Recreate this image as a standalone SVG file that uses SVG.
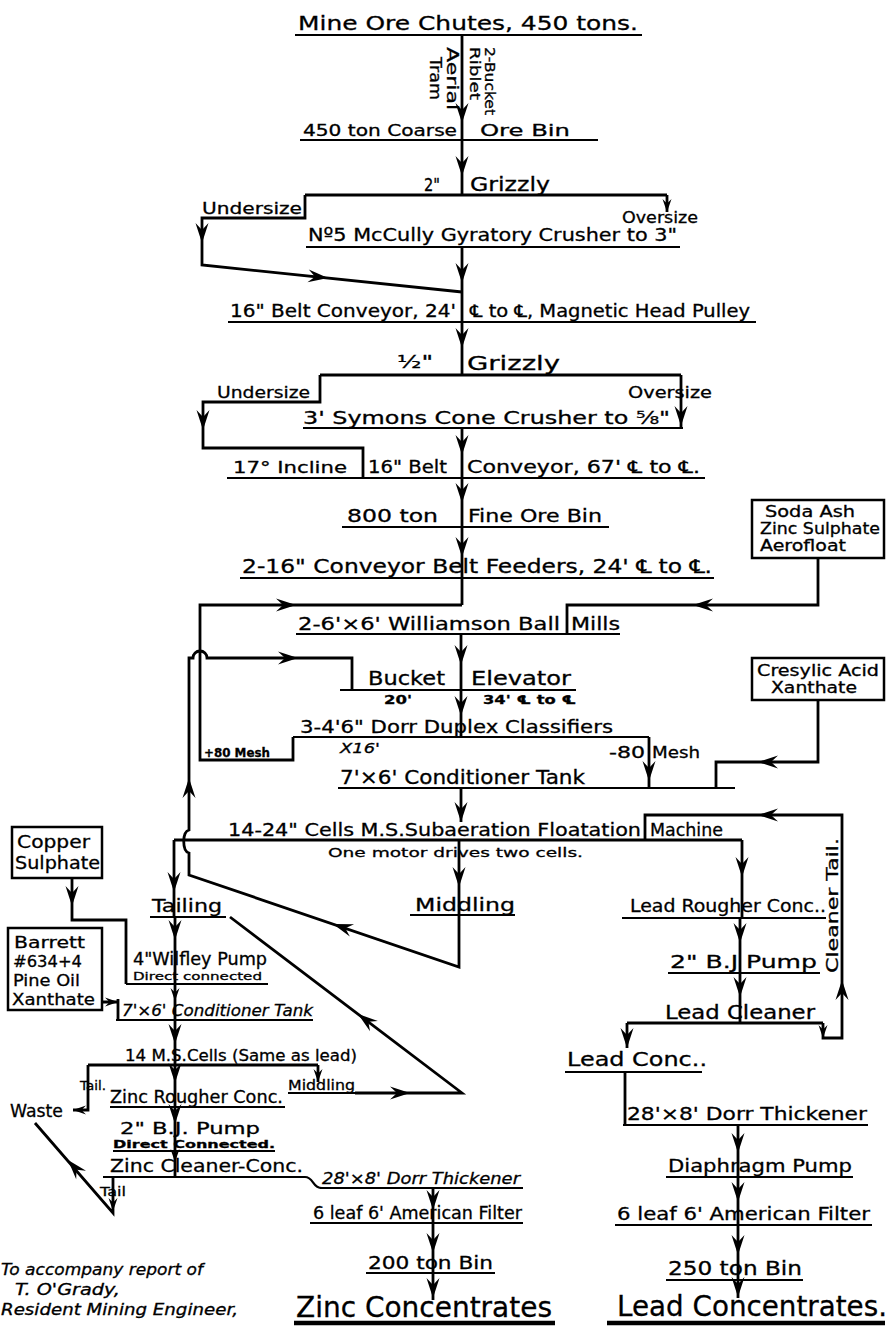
<svg xmlns="http://www.w3.org/2000/svg" width="893" height="1327" viewBox="0 0 893 1327">
<style>
text{font-family:"DejaVu Sans","Liberation Sans",sans-serif;fill:#000;stroke:#000;stroke-width:0.3}
.i{font-style:italic}
.b{font-weight:bold}
.ln{stroke:#000;stroke-width:2.8;fill:none}
.ul{stroke:#000;stroke-width:2.2;fill:none}
.th{stroke:#000;stroke-width:4.5;fill:none}
.bx{fill:#fff;stroke:#000;stroke-width:2.5}
</style>
<defs>
<path id="ah" d="M0,0 L-6.5,-20 L0,-13 L6.5,-20 Z" fill="#000"/>
<path id="as" d="M0,0 L-4.5,-13 L0,-8.5 L4.5,-13 Z" fill="#000"/>
</defs>
<rect width="893" height="1327" fill="#fff"/>

<g id="connectors">
<path class="ln" d="M462,35 V140"/>
<path class="ln" d="M462,140 V195"/>
<path class="ln" d="M667,195 V212"/>
<path class="ln" d="M305,195 V218 H202 V265 L462,292"/>
<path class="ln" d="M462,247 V322"/>
<path class="ln" d="M462,322 V375"/>
<path class="ln" d="M681,375 V428"/>
<path class="ln" d="M320,375 V402 H203 V448 H363 V478"/>
<path class="ln" d="M462,428 V478"/>
<path class="ln" d="M462,478 V527"/>
<path class="ln" d="M462,527 V578"/>
<path class="ln" d="M462,578 V605"/>
<path class="ln" d="M818,558 V605 H567 V634"/>
<path class="ln" d="M293,737 V760 H200 V605 H462"/>
<path class="ln" d="M461,634 V690"/>
<path class="ln" d="M461,690 V737"/>
<path class="ln" d="M649,737 V788"/>
<path class="ln" d="M818,700 V762 H716 V788"/>
<path class="ln" d="M461,788 V822"/>
<path class="ln" d="M459,840 V967 L189,875 V853 C182,851 182,832 189,830 V658 H193 A7,7 0 0 1 207,658 H352 V690"/>
<path class="ln" d="M174,840 V917"/>
<path class="ln" d="M742,840 V918"/>
<path class="ln" d="M740,918 V973"/>
<path class="ln" d="M740,973 V1023"/>
<path class="ln" d="M627,1023 V1048"/>
<path class="ln" d="M823,1023 V1038 H842 V815 H645 V840"/>
<path class="ln" d="M625,1072 V1125"/>
<path class="ln" d="M738,1125 V1298"/>
<path class="ln" d="M175,917 V1177"/>
<path class="ln" d="M72,878 V920 H126 V984"/>
<path class="ln" d="M102,1002 H118 M118,999 V1020"/>
<path class="ln" d="M88,1065 V1110 H73"/>
<path class="ln" d="M318,1065 V1082"/>
<path class="ln" d="M355,1093 H462 L230,917"/>
<path class="ln" d="M113,1177 V1213 L35,1123"/>
<path class="ul" d="M305,1177 C314,1177 312,1188 322,1188"/>
<path class="ln" d="M433,1188 V1300"/>

<use href="#ah" transform="translate(462,123)"/>
<use href="#ah" transform="translate(462,176)"/>
<use href="#as" transform="translate(667,212)"/>
<use href="#ah" transform="translate(202,243)"/>
<use href="#ah" transform="translate(328,278) rotate(-84)"/>
<use href="#ah" transform="translate(462,283)"/>
<use href="#ah" transform="translate(462,348)"/>
<use href="#ah" transform="translate(681,426)"/>
<use href="#ah" transform="translate(203,430)"/>
<use href="#ah" transform="translate(462,455)"/>
<use href="#ah" transform="translate(462,503)"/>
<use href="#ah" transform="translate(462,557)"/>
<use href="#ah" transform="translate(693,605) rotate(90)"/>
<use href="#ah" transform="translate(296,605) rotate(-90)"/>
<use href="#ah" transform="translate(298,658) rotate(-90)"/>
<use href="#ah" transform="translate(189,778) rotate(180)"/>
<use href="#ah" transform="translate(333,924) rotate(108.8)"/>
<use href="#ah" transform="translate(461,665)"/>
<use href="#ah" transform="translate(461,716)"/>
<use href="#ah" transform="translate(649,781)"/>
<use href="#ah" transform="translate(758,762) rotate(90)"/>
<use href="#ah" transform="translate(461,822)"/>
<use href="#ah" transform="translate(174,892)"/>
<use href="#ah" transform="translate(459,887)"/>
<use href="#ah" transform="translate(742,877)"/>
<use href="#ah" transform="translate(740,943)"/>
<use href="#ah" transform="translate(740,997)"/>
<use href="#ah" transform="translate(627,1048)"/>
<use href="#as" transform="translate(823,1038)"/>
<use href="#ah" transform="translate(842,980) rotate(180)"/>
<use href="#ah" transform="translate(758,815) rotate(90)"/>
<use href="#ah" transform="translate(175,940)"/>
<use href="#as" transform="translate(175,1001)"/>
<use href="#ah" transform="translate(175,1044)"/>
<use href="#ah" transform="translate(72,906)"/>
<use href="#as" transform="translate(118,1002) rotate(-90)"/>
<use href="#as" transform="translate(73,1110) rotate(90)"/>
<use href="#as" transform="translate(318,1082)"/>
<use href="#ah" transform="translate(410,1093) rotate(-90)"/>
<use href="#ah" transform="translate(358,1014) rotate(127.2)"/>
<use href="#ah" transform="translate(175,1083)"/>
<use href="#ah" transform="translate(175,1124)"/>
<use href="#as" transform="translate(175,1162)"/>
<use href="#as" transform="translate(113,1211)"/>
<use href="#ah" transform="translate(68,1160) rotate(139.1)"/>
<use href="#ah" transform="translate(433,1210)"/>
<use href="#ah" transform="translate(433,1253)"/>
<use href="#ah" transform="translate(433,1298)"/>
<use href="#ah" transform="translate(738,1153)"/>
<use href="#ah" transform="translate(738,1202)"/>
<use href="#ah" transform="translate(738,1255)"/>
<use href="#ah" transform="translate(738,1297)"/>

<g id="connector-labels">
<text transform="translate(447,47) rotate(90)" font-size="16" textLength="63" lengthAdjust="spacingAndGlyphs">Aerial</text>
<text transform="translate(430,57) rotate(90)" font-size="16" textLength="43" lengthAdjust="spacingAndGlyphs">Tram</text>
<text transform="translate(485,47) rotate(90)" font-size="14" textLength="68" lengthAdjust="spacingAndGlyphs">2-Bucket</text>
<text transform="translate(470,47) rotate(90)" font-size="14" textLength="53" lengthAdjust="spacingAndGlyphs">Riblet</text>
<text x="202" y="214" font-size="16" textLength="100" lengthAdjust="spacingAndGlyphs">Undersize</text>
<text x="622" y="223" font-size="16" textLength="76" lengthAdjust="spacingAndGlyphs">Oversize</text>
<text x="217" y="398" font-size="16" textLength="93" lengthAdjust="spacingAndGlyphs">Undersize</text>
<text x="628" y="398" font-size="16" textLength="84" lengthAdjust="spacingAndGlyphs">Oversize</text>
<text x="204" y="757" font-size="12" class="b" textLength="66" lengthAdjust="spacingAndGlyphs">+80 Mesh</text>
<text x="609" y="758" font-size="15" textLength="36" lengthAdjust="spacingAndGlyphs">-80</text>
<text x="652" y="758" font-size="15" textLength="48" lengthAdjust="spacingAndGlyphs">Mesh</text>
<text transform="translate(838,973) rotate(-90)" font-size="15" textLength="135" lengthAdjust="spacingAndGlyphs">Cleaner Tail.</text>
<text x="80" y="1090" font-size="12" textLength="26" lengthAdjust="spacingAndGlyphs">Tail.</text>
<text x="100" y="1196" font-size="13" textLength="26" lengthAdjust="spacingAndGlyphs">Tail</text>
</g>
</g>

<g id="mine-ore-chutes">
<text x="298" y="30" font-size="20" textLength="340" lengthAdjust="spacingAndGlyphs">Mine Ore Chutes, 450 tons.</text>
<line class="ul" x1="295" y1="35" x2="642" y2="35"/>
</g>
<g id="coarse-ore-bin">
<text x="303" y="136" font-size="16" textLength="154" lengthAdjust="spacingAndGlyphs">450 ton Coarse</text>
<text x="480" y="136" font-size="16" textLength="90" lengthAdjust="spacingAndGlyphs">Ore Bin</text>
<line class="ul" x1="300" y1="140" x2="598" y2="140"/>
</g>
<g id="grizzly-2in">
<text x="424" y="191" font-size="17" textLength="16" lengthAdjust="spacingAndGlyphs">2"</text>
<text x="470" y="191" font-size="19" textLength="80" lengthAdjust="spacingAndGlyphs">Grizzly</text>
<line class="ln" x1="305" y1="195" x2="667" y2="195"/>
</g>
<g id="gyratory-crusher">
<text x="308" y="241" font-size="18" textLength="369" lengthAdjust="spacingAndGlyphs">Nº5 McCully Gyratory Crusher to 3"</text>
<line class="ul" x1="306" y1="247" x2="680" y2="247"/>
</g>
<g id="belt-conveyor-24">
<text x="230" y="317" font-size="17" textLength="226" lengthAdjust="spacingAndGlyphs">16" Belt Conveyor, 24'</text>
<text x="470" y="317" font-size="17" textLength="280" lengthAdjust="spacingAndGlyphs">℄ to ℄, Magnetic Head Pulley</text>
<line class="ul" x1="228" y1="322" x2="756" y2="322"/>
</g>
<g id="grizzly-half">
<text x="397" y="368" font-size="17" textLength="36" lengthAdjust="spacingAndGlyphs">½"</text>
<text x="467" y="370" font-size="20" textLength="93" lengthAdjust="spacingAndGlyphs">Grizzly</text>
<line class="ln" x1="320" y1="375" x2="681" y2="375"/>
</g>
<g id="symons-crusher">
<text x="303" y="424" font-size="17" textLength="367" lengthAdjust="spacingAndGlyphs">3' Symons Cone Crusher to ⅝"</text>
<line class="ul" x1="303" y1="428" x2="683" y2="428"/>
</g>
<g id="belt-conveyor-67">
<text x="233" y="473" font-size="16" textLength="114" lengthAdjust="spacingAndGlyphs">17° Incline</text>
<text x="368" y="473" font-size="17" textLength="79" lengthAdjust="spacingAndGlyphs">16" Belt</text>
<text x="467" y="473" font-size="17" textLength="233" lengthAdjust="spacingAndGlyphs">Conveyor, 67' ℄ to ℄.</text>
<line class="ul" x1="227" y1="478" x2="705" y2="478"/>
</g>
<g id="fine-ore-bin">
<text x="347" y="522" font-size="17" textLength="91" lengthAdjust="spacingAndGlyphs">800 ton</text>
<text x="468" y="522" font-size="17" textLength="134" lengthAdjust="spacingAndGlyphs">Fine Ore Bin</text>
<line class="ul" x1="342" y1="527" x2="609" y2="527"/>
</g>
<g id="belt-feeders">
<text x="242" y="573" font-size="19" textLength="470" lengthAdjust="spacingAndGlyphs">2-16" Conveyor Belt Feeders, 24' ℄ to ℄.</text>
<line class="ul" x1="240" y1="578" x2="714" y2="578"/>
</g>
<g id="soda-ash">
<rect class="bx" x="752" y="500" width="132" height="58"/>
<text x="765" y="517" font-size="15" textLength="90" lengthAdjust="spacingAndGlyphs">Soda Ash</text>
<text x="760" y="534" font-size="15" textLength="120" lengthAdjust="spacingAndGlyphs">Zinc Sulphate</text>
<text x="760" y="551" font-size="15" textLength="86" lengthAdjust="spacingAndGlyphs">Aerofloat</text>
</g>
<g id="ball-mills">
<text x="298" y="630" font-size="18" textLength="262" lengthAdjust="spacingAndGlyphs">2-6'×6' Williamson Ball</text>
<text x="571" y="630" font-size="18" textLength="49" lengthAdjust="spacingAndGlyphs">Mills</text>
<line class="ul" x1="296" y1="634" x2="620" y2="634"/>
</g>
<g id="bucket-elevator">
<text x="368" y="685" font-size="19" textLength="77" lengthAdjust="spacingAndGlyphs">Bucket</text>
<text x="471" y="685" font-size="19" textLength="100" lengthAdjust="spacingAndGlyphs">Elevator</text>
<line class="ul" x1="340" y1="690" x2="576" y2="690"/>
<text x="384" y="704" font-size="12" class="b" textLength="28" lengthAdjust="spacingAndGlyphs">20'</text>
<text x="483" y="704" font-size="12" class="b" textLength="93" lengthAdjust="spacingAndGlyphs">34' ℄ to ℄</text>
</g>
<g id="classifiers">
<text x="300" y="733" font-size="18" textLength="313" lengthAdjust="spacingAndGlyphs">3-4'6" Dorr Duplex Classifiers</text>
<line class="ul" x1="293" y1="737" x2="649" y2="737"/>
<text x="340" y="753" font-size="14" class="i" textLength="40" lengthAdjust="spacingAndGlyphs">X16'</text>
</g>
<g id="cresylic-acid">
<rect class="bx" x="752" y="658" width="132" height="42"/>
<text x="757" y="676" font-size="15" textLength="122" lengthAdjust="spacingAndGlyphs">Cresylic Acid</text>
<text x="771" y="693" font-size="15" textLength="86" lengthAdjust="spacingAndGlyphs">Xanthate</text>
</g>
<g id="conditioner-tank">
<text x="340" y="784" font-size="19" textLength="245" lengthAdjust="spacingAndGlyphs">7'×6' Conditioner Tank</text>
<line class="ul" x1="338" y1="788" x2="735" y2="788"/>
</g>
<g id="flotation-machine">
<text x="228" y="836" font-size="18" textLength="413" lengthAdjust="spacingAndGlyphs">14-24" Cells M.S.Subaeration Floatation</text>
<text x="650" y="836" font-size="18" textLength="73" lengthAdjust="spacingAndGlyphs">Machine</text>
<line class="ln" x1="174" y1="840" x2="742" y2="840"/>
<text x="328" y="857" font-size="13" textLength="255" lengthAdjust="spacingAndGlyphs">One motor drives two cells.</text>
</g>
<g id="tailing">
<text x="152" y="912" font-size="18" textLength="70" lengthAdjust="spacingAndGlyphs">Tailing</text>
<line class="ul" x1="150" y1="917" x2="226" y2="917"/>
</g>
<g id="middling">
<text x="415" y="911" font-size="18" textLength="100" lengthAdjust="spacingAndGlyphs">Middling</text>
<line class="ul" x1="410" y1="915" x2="515" y2="915"/>
</g>
<g id="lead-rougher">
<text x="630" y="912" font-size="17" textLength="196" lengthAdjust="spacingAndGlyphs">Lead Rougher Conc..</text>
<line class="ul" x1="622" y1="918" x2="826" y2="918"/>
</g>
<g id="copper-sulphate">
<rect class="bx" x="12" y="827" width="90" height="51"/>
<text x="17" y="848" font-size="17" textLength="73" lengthAdjust="spacingAndGlyphs">Copper</text>
<text x="15" y="869" font-size="17" textLength="85" lengthAdjust="spacingAndGlyphs">Sulphate</text>
</g>
<g id="wilfley-pump">
<text x="133" y="965" font-size="17" textLength="134" lengthAdjust="spacingAndGlyphs">4"Wilfley Pump</text>
<text x="133" y="980" font-size="11" textLength="129" lengthAdjust="spacingAndGlyphs">Direct connected</text>
<line class="ul" x1="126" y1="984" x2="268" y2="984"/>
</g>
<g id="barrett">
<rect class="bx" x="8" y="928" width="94" height="82"/>
<text x="14" y="948" font-size="16" textLength="71" lengthAdjust="spacingAndGlyphs">Barrett</text>
<text x="13" y="967" font-size="16" textLength="69" lengthAdjust="spacingAndGlyphs">#634+4</text>
<text x="13" y="986" font-size="16" textLength="67" lengthAdjust="spacingAndGlyphs">Pine Oil</text>
<text x="12" y="1005" font-size="16" textLength="83" lengthAdjust="spacingAndGlyphs">Xanthate</text>
</g>
<g id="zinc-conditioner">
<text x="122" y="1016" font-size="16" class="i" textLength="191" lengthAdjust="spacingAndGlyphs">7'×6' Conditioner Tank</text>
<line class="ul" x1="116" y1="1020" x2="313" y2="1020"/>
</g>
<g id="zinc-cells">
<text x="125" y="1061" font-size="15" textLength="232" lengthAdjust="spacingAndGlyphs">14 M.S.Cells (Same as lead)</text>
<line class="ln" x1="88" y1="1065" x2="318" y2="1065"/>
</g>
<g id="waste">
<text x="10" y="1117" font-size="18" textLength="53" lengthAdjust="spacingAndGlyphs">Waste</text>
</g>
<g id="zinc-rougher">
<text x="110" y="1103" font-size="17" textLength="173" lengthAdjust="spacingAndGlyphs">Zinc Rougher Conc.</text>
<line class="ul" x1="110" y1="1107" x2="285" y2="1107"/>
</g>
<g id="zinc-middling">
<text x="288" y="1090" font-size="14" textLength="67" lengthAdjust="spacingAndGlyphs">Middling</text>
<line class="ul" x1="288" y1="1093" x2="356" y2="1093"/>
</g>
<g id="zinc-pump">
<text x="120" y="1134" font-size="16" textLength="140" lengthAdjust="spacingAndGlyphs">2" B.J. Pump</text>
<text x="113" y="1148" font-size="10" class="b" textLength="162" lengthAdjust="spacingAndGlyphs">Direct Connected.</text>
<line class="ul" x1="113" y1="1151" x2="275" y2="1151"/>
</g>
<g id="zinc-cleaner">
<text x="110" y="1172" font-size="18" textLength="193" lengthAdjust="spacingAndGlyphs">Zinc Cleaner-Conc.</text>
<line class="ul" x1="103" y1="1177" x2="305" y2="1177"/>
</g>
<g id="zinc-thickener">
<text x="322" y="1184" font-size="16" class="i" textLength="198" lengthAdjust="spacingAndGlyphs">28'×8' Dorr Thickener</text>
<line class="ul" x1="320" y1="1188" x2="523" y2="1188"/>
</g>
<g id="zinc-filter">
<text x="313" y="1219" font-size="17" textLength="209" lengthAdjust="spacingAndGlyphs">6 leaf 6' American Filter</text>
<line class="ul" x1="310" y1="1223" x2="523" y2="1223"/>
</g>
<g id="zinc-bin">
<text x="368" y="1269" font-size="17" textLength="125" lengthAdjust="spacingAndGlyphs">200 ton Bin</text>
<line class="ul" x1="366" y1="1273" x2="495" y2="1273"/>
</g>
<g id="zinc-concentrates">
<text x="296" y="1317" font-size="28" textLength="256" lengthAdjust="spacingAndGlyphs">Zinc Concentrates</text>
<line class="th" x1="294" y1="1323" x2="555" y2="1323"/>
</g>
<g id="lead-pump">
<text x="670" y="968" font-size="18" textLength="147" lengthAdjust="spacingAndGlyphs">2" B.J Pump</text>
<line class="ul" x1="668" y1="973" x2="820" y2="973"/>
</g>
<g id="lead-cleaner">
<text x="665" y="1019" font-size="19" textLength="150" lengthAdjust="spacingAndGlyphs">Lead Cleaner</text>
<line class="ln" x1="627" y1="1023" x2="823" y2="1023"/>
</g>
<g id="lead-conc">
<text x="567" y="1066" font-size="19" textLength="140" lengthAdjust="spacingAndGlyphs">Lead Conc..</text>
<line class="ul" x1="565" y1="1072" x2="702" y2="1072"/>
</g>
<g id="lead-thickener">
<text x="627" y="1120" font-size="18" textLength="240" lengthAdjust="spacingAndGlyphs">28'×8' Dorr Thickener</text>
<line class="ul" x1="623" y1="1125" x2="868" y2="1125"/>
</g>
<g id="diaphragm-pump">
<text x="668" y="1172" font-size="18" textLength="184" lengthAdjust="spacingAndGlyphs">Diaphragm Pump</text>
<line class="ul" x1="666" y1="1177" x2="853" y2="1177"/>
</g>
<g id="lead-filter">
<text x="617" y="1220" font-size="18" textLength="253" lengthAdjust="spacingAndGlyphs">6 leaf 6' American Filter</text>
<line class="ul" x1="615" y1="1225" x2="872" y2="1225"/>
</g>
<g id="lead-bin">
<text x="668" y="1275" font-size="19" textLength="134" lengthAdjust="spacingAndGlyphs">250 ton Bin</text>
<line class="ul" x1="666" y1="1280" x2="803" y2="1280"/>
</g>
<g id="lead-concentrates">
<text x="617" y="1316" font-size="28" textLength="270" lengthAdjust="spacingAndGlyphs">Lead Concentrates.</text>
<line class="th" x1="607" y1="1323" x2="885" y2="1323"/>
</g>
<g id="footnote">
<text x="1" y="1275" font-size="15" class="i" textLength="202" lengthAdjust="spacingAndGlyphs">To accompany report of</text>
<text x="15" y="1295" font-size="15" class="i" textLength="105" lengthAdjust="spacingAndGlyphs">T. O'Grady,</text>
<text x="1" y="1315" font-size="15" class="i" textLength="237" lengthAdjust="spacingAndGlyphs">Resident Mining Engineer,</text>
</g>
</svg>
